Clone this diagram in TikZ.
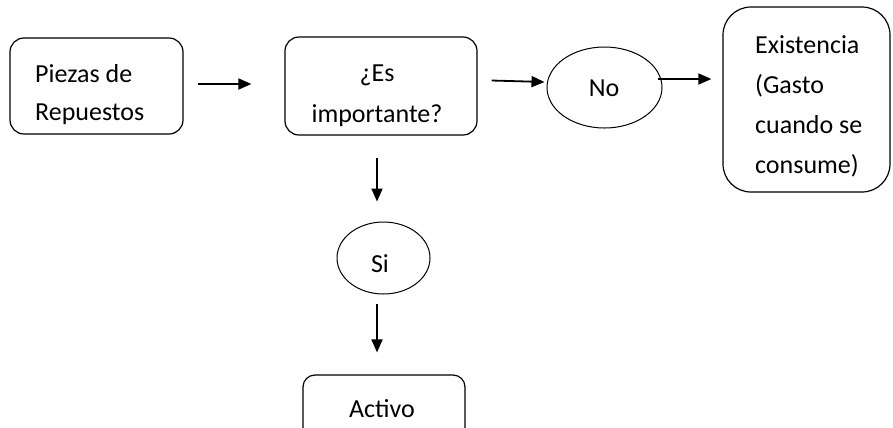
\documentclass[tikz,border=0pt]{standalone}
\usepackage{fontspec}
\setmainfont{Carlito}
\usetikzlibrary{arrows.meta,shapes.geometric,calc}
\begin{document}
\begin{tikzpicture}[x=1bp,y=-1bp,
  box/.style={draw, line width=1.2bp, rounded corners=14bp, inner sep=0pt},
  oval/.style={draw, ellipse, line width=1bp, inner sep=0pt},
  txt/.style={font=\fontsize{26bp}{38bp}\selectfont, inner sep=0pt, text=black},
  flow/.style={-{Triangle[length=13bp,width=11bp]}, line width=1.8bp}]
\useasboundingbox (0,0) rectangle (893,427);

% shapes
\node[box, minimum width=173bp, minimum height=96bp] (piezas) at (96.5,86) {};
\node[box, minimum width=192bp, minimum height=98bp] (imp) at (381,86) {};
\node[oval, minimum width=115bp, minimum height=81bp] (no) at (604.5,87.5) {};
\node[box, rounded corners=28bp, minimum width=167bp, minimum height=185bp] (exist) at (806.5,99.5) {};
\node[oval, minimum width=93bp, minimum height=72bp] (si) at (383.5,258) {};
\node[box, rounded corners=12bp, minimum width=162bp, minimum height=70bp] (activo) at (384,410) {};

% texts (multi-line nodes sit on the baseline of their last line)
\node[txt, anchor=base west, align=left] (tpiezas) at (35,120) {Piezas de\\Repuestos};
\node[txt, anchor=base, align=center, font=\fontsize{26bp}{41bp}\selectfont] (timp) at (377,122) {¿Es\\importante?};
\node[txt, anchor=base] (tno) at (604,96) {No};
\node[txt, anchor=base west, align=left, font=\fontsize{26bp}{40bp}\selectfont] (texist) at (755,173) {Existencia\\(Gasto\\cuando se\\consume)};
\node[txt, anchor=base] (tsi) at (380,272) {Si};
\node[txt, anchor=base] (tactivo) at (382,417) {Activo};

% connectors
\draw[flow] ($(piezas.east)+(14,-2)$) -- ($(imp.west)+(-33,-2)$);
\draw[flow] ($(imp.east)+(14,-5.5)$) -- ($(no.west)+(-2,-5.5)$);
\draw[flow] ($(no.east)+(-5,-8.5)$) -- ($(exist.west)+(-11,-20.5)$);
\draw[flow] ($(imp.south)+(-4,22)$) -- ($(si.north)+(-6.5,-20)$);
\draw[flow] ($(si.south)+(-6.5,9)$) -- ($(activo.north)+(-7,-22)$);
\end{tikzpicture}
\end{document}
